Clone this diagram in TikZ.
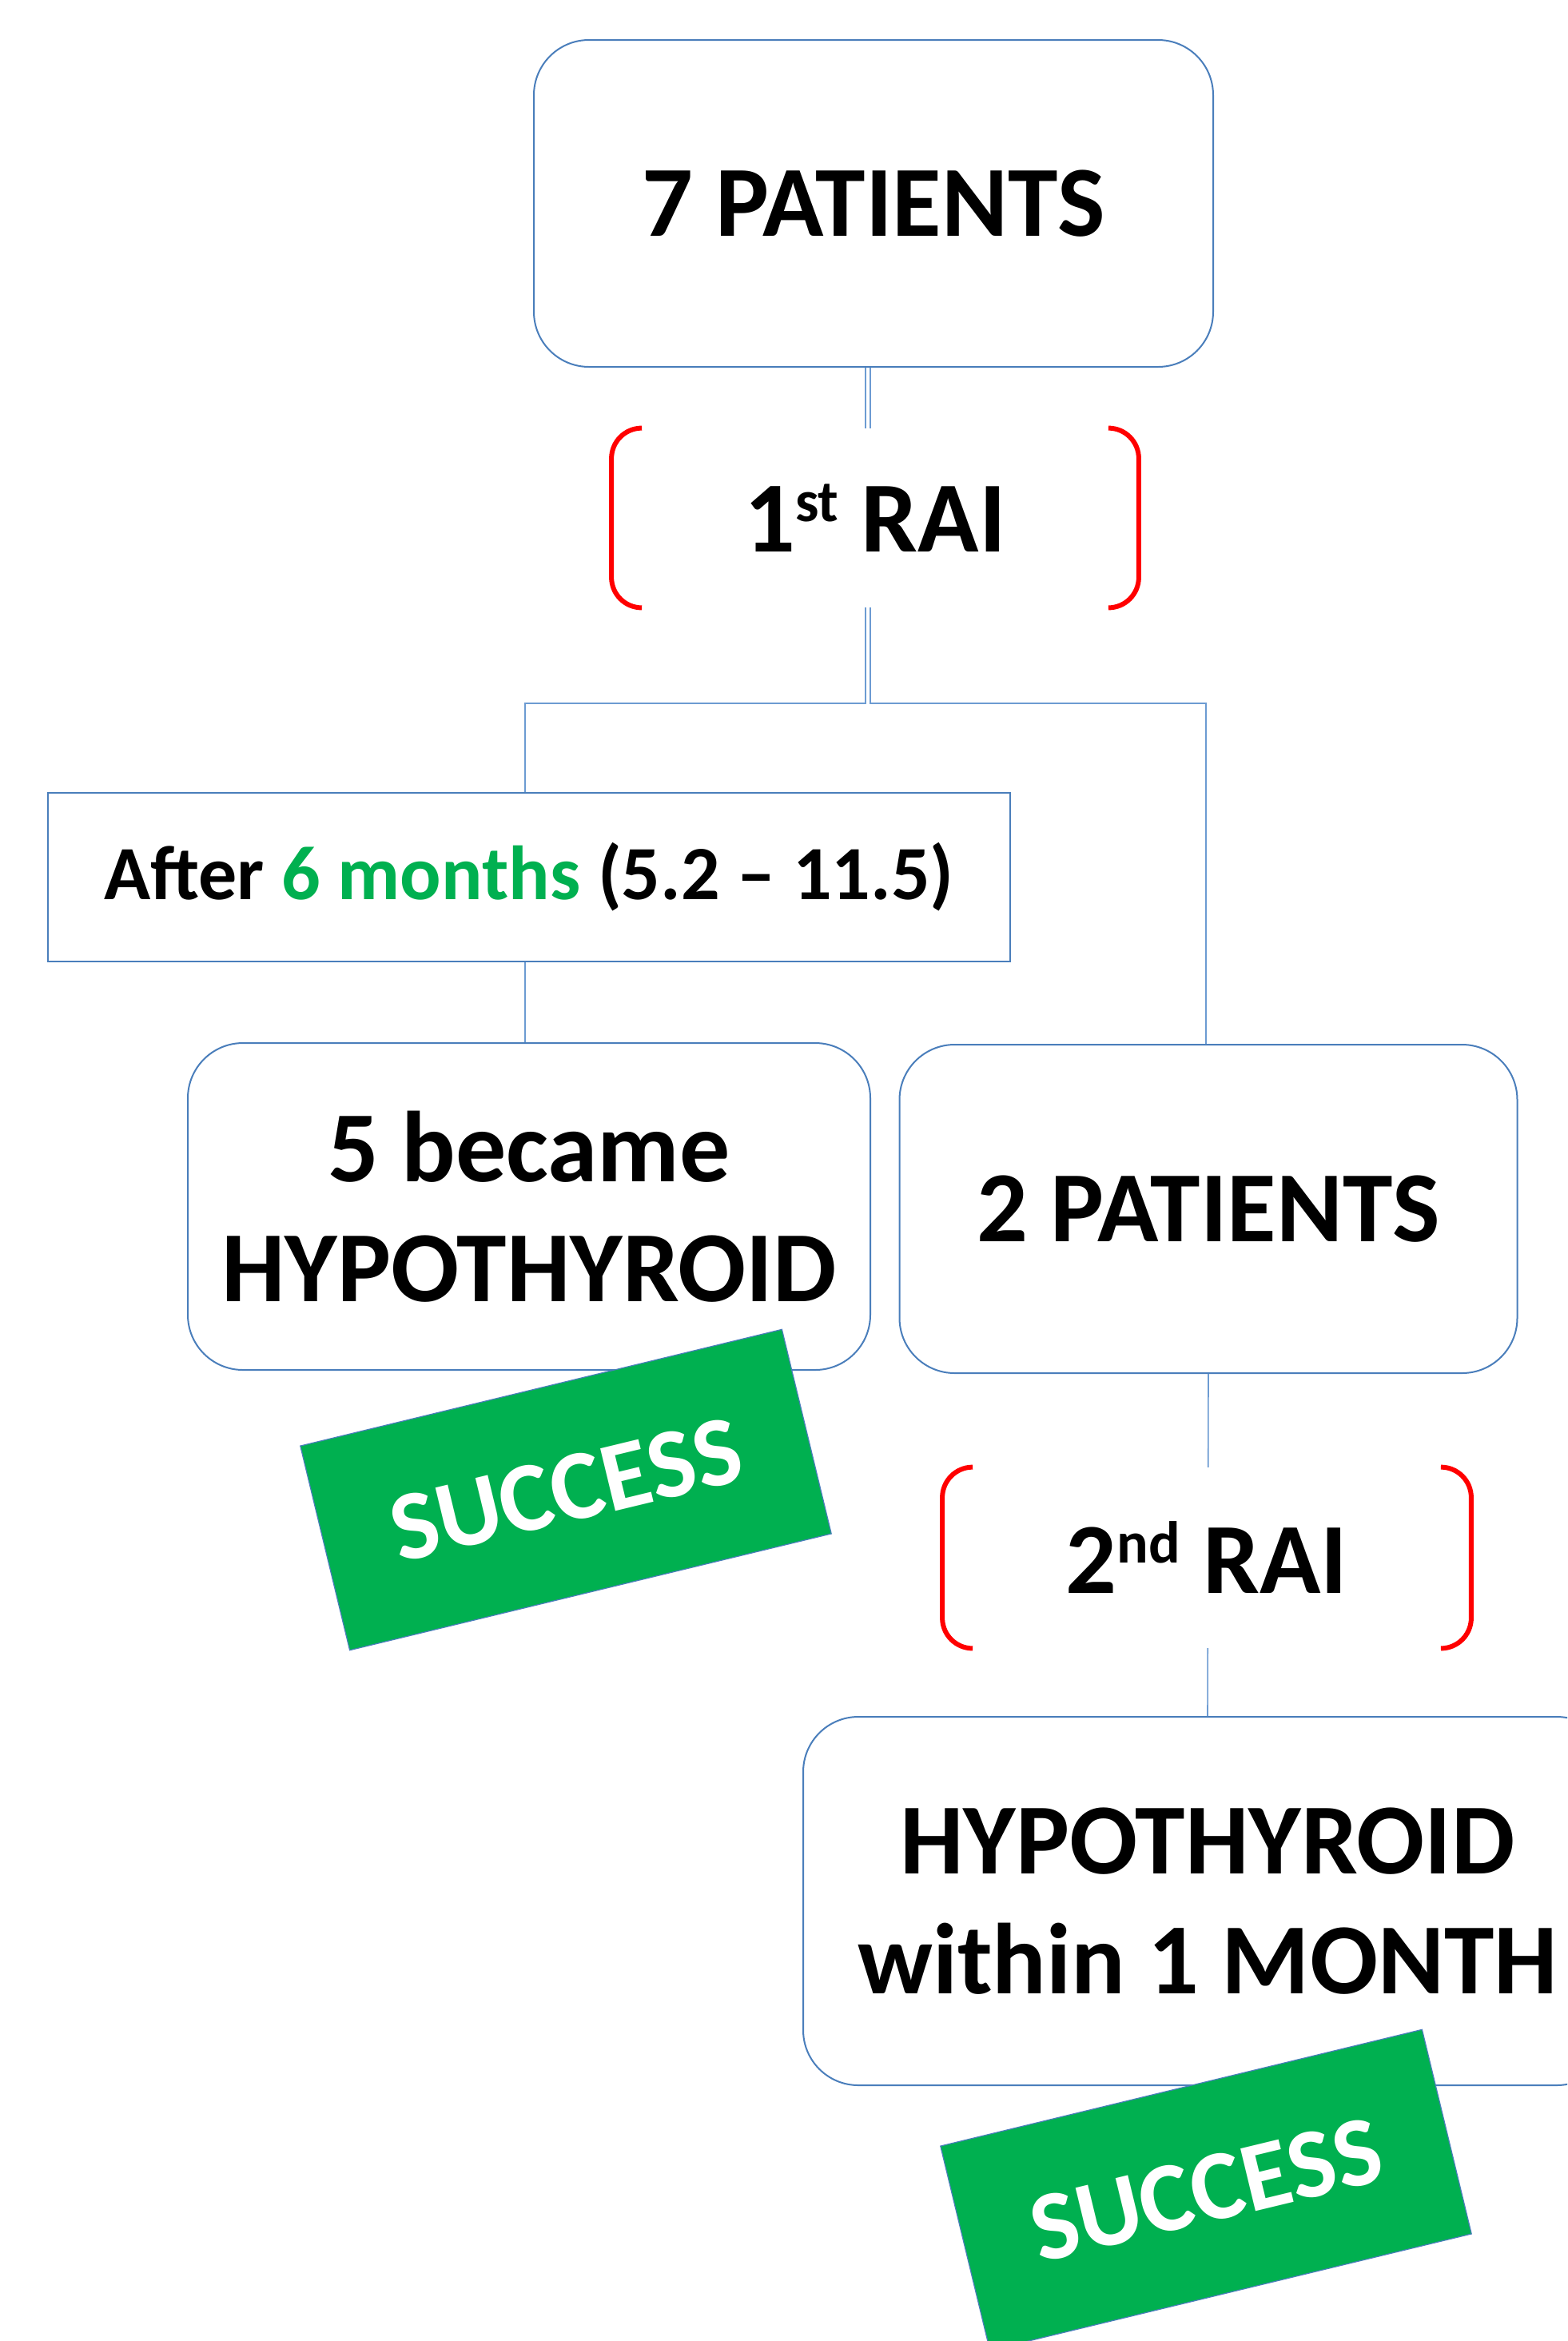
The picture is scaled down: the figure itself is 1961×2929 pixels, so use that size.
\documentclass[tikz,border=0pt]{standalone}
\usepackage{fontspec}
\setmainfont{Carlito}
\definecolor{boxline}{HTML}{4A7EBB}
\definecolor{connline}{HTML}{6C9BD2}
\definecolor{grn}{HTML}{00B050}
\definecolor{brkred}{HTML}{FF0000}
\newcommand{\supx}[1]{\raisebox{19pt}{\fontsize{37}{37}\selectfont #1}}
\tikzset{
  rbox/.style={draw=boxline, line width=1pt, fill=white, rounded corners=34.5pt, align=center, inner sep=0pt, font=\bfseries\fontsize{63}{75}\selectfont},
  sbox/.style={draw=boxline, line width=1pt, fill=white, inner sep=0pt, font=\bfseries\fontsize{48}{58}\selectfont},
  raibox/.style={fill=white, inner sep=0pt, font=\bfseries\fontsize{63}{75}\selectfont},
  brk/.style={draw=brkred, line width=3pt, rounded corners=19pt},
  conn/.style={draw=connline, line width=0.8pt},
  stamp/.style={fill=grn, draw=boxline, line width=0.6pt, inner sep=0pt, minimum width=310pt, minimum height=131.5pt, text=white, font=\bfseries\fontsize{62}{74.5}\selectfont}
}
\begin{document}
\begin{tikzpicture}[x=0.5pt, y=-0.5pt]
\path[use as bounding box] (0,0) rectangle (1961,2929);
\clip (0,0) rectangle (1961,2929);
\fill[white] (0,0) rectangle (1961,2929);

% boxes
\node[rbox, minimum width=425pt, minimum height=204.5pt] (p7) at (1093,254.5) {7 PATIENTS};
\node[sbox, minimum width=602pt, minimum height=105.5pt] (after) at (662,1097.5) {After {\color{grn}6 months} (5.2 – 11.5)};
\node[rbox, minimum width=427pt, minimum height=204.5pt] (hyp1) at (662,1509.5) {5 became\\HYPOTHYROID};
\node[rbox, minimum width=386.5pt, minimum height=205.5pt] (p2) at (1512,1512.5) {2 PATIENTS};
\node[rbox, minimum width=506pt, minimum height=230.5pt] (hyp2) at (1511,2378.5) {HYPOTHYROID\\within 1 MONTH};
\coordinate (j1) at (1086,880);

% connectors
\draw[conn] ([xshift=-1.5pt]p7.south -| j1) -- ([xshift=-1.5pt]j1) -| ([xshift=-2.5pt]after.north);
\draw[conn] ([xshift=1.5pt]p7.south -| j1) -- ([xshift=1.5pt]j1) -| ([xshift=-1.5pt]p2.north);
\draw[conn] ([xshift=-2.5pt]after.south) -- ([xshift=-2.5pt]hyp1.north);
\draw[conn] (p2.south) -- (hyp2.north);

% RAI nodes with brackets
\node[raibox, minimum width=329.5pt, minimum height=112pt] (rai1) at (1095,648) {1\supx{st} RAI};
\draw[brk] ([xshift=19pt]rai1.north west) -- (rai1.north west) -- (rai1.south west) -- ([xshift=19pt]rai1.south west);
\draw[brk] ([xshift=-19pt]rai1.north east) -- (rai1.north east) -- (rai1.south east) -- ([xshift=-19pt]rai1.south east);

\node[raibox, minimum width=330.5pt, minimum height=113pt] (rai2) at (1510,1949) {2\supx{nd} RAI};
\draw[brk] ([xshift=19pt]rai2.north west) -- (rai2.north west) -- (rai2.south west) -- ([xshift=19pt]rai2.south west);
\draw[brk] ([xshift=-19pt]rai2.north east) -- (rai2.north east) -- (rai2.south east) -- ([xshift=-19pt]rai2.south east);

% stamps
\node[stamp, rotate=13.6] (s1) at (708,1864) {SUCCESS};
\node[stamp, rotate=13.6] (s2) at (1509,2740) {SUCCESS};
\end{tikzpicture}
\end{document}
